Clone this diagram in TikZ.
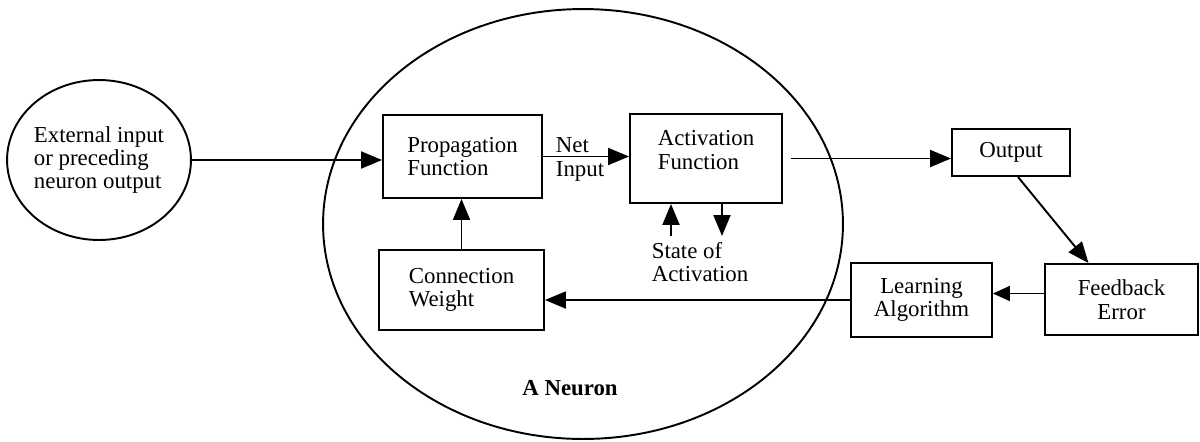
\documentclass[tikz,border=0pt]{standalone}
\usepackage{fontspec}
\setmainfont{Liberation Serif}
\usetikzlibrary{arrows.meta,calc,shapes.geometric}

\begin{document}
\begin{tikzpicture}[x=0.02cm, y=-0.02cm, line width=1.1pt, font=\fontsize{13}{13.3}\selectfont,
	block/.style = {draw, rectangle, inner sep=2pt},
	oval/.style = {draw, ellipse, inner sep=0pt},
	arr/.style = {-{Triangle[length=0.42cm, width=0.34cm]}}]
	\useasboundingbox (0,0) rectangle (1200,441);
		\node[oval, minimum width=10.4cm, minimum height=8.6cm] (neuron) at (583,224) {};
		\node[font=\fontsize{13}{13.3}\selectfont\bfseries] (title) at (570,388) {A Neuron};
		\node[oval, minimum width=3.56cm, minimum height=3.2cm, align=left] (ext) at (99,160) {External input\\or preceding\\neuron output};
		\node[block, minimum width=3.18cm, minimum height=1.66cm, align=left] (prop) at (462.5,156.5) {Propagation\\Function};
		\node[block, minimum width=3.04cm, minimum height=1.78cm, align=left, text depth=0.35cm] (act) at (706,158.5) {Activation\\Function};
		\node[block, minimum width=3.3cm, minimum height=1.6cm, align=left] (cw) at (461.5,290) {Connection\\Weight};
		\node[block, minimum width=2.36cm, minimum height=0.94cm] (out) at (1011,152.5) {Output};
		\node[block, minimum width=2.82cm, minimum height=1.48cm, align=center] (learn) at (921.5,300) {Learning\\Algorithm};
		\node[block, minimum width=3.06cm, minimum height=1.42cm, align=center] (fb) at (1121.5,299.5) {Feedback\\Error};
		\node[anchor=west, inner sep=0pt, align=left, font=\fontsize{13}{13.6}\selectfont] (net) at (555,159) {Net\\Input};
		\node[align=left, inner sep=0pt] (state) at (700,262) {State of\\Activation};
		\coordinate (sup) at (671,236);
		\coordinate (sdown) at (722,236);
		\coordinate (fbin) at ($(fb.west)+(0,-6)$);
		\draw[arr] (ext.east) -- (ext.east -| prop.west);
		\draw[arr] (prop.east) -- (prop.east -| act.west);
		\draw[arr] (cw.north) -- (cw.north |- prop.south);
		\draw[arr] (sup) -- (sup |- act.south);
		\draw[arr] (sdown |- act.south) -- (sdown);
		\draw[arr, shorten <=0.16cm] (act.east) -- (act.east -| out.west);
		\draw[arr] ($(out.south)+(7,0)$) -- ($(fb.north)+(-33,0)$);
		\draw[-{Triangle[length=0.34cm, width=0.3cm]}] (fbin) -- (fbin -| learn.east);
		\draw[arr] (learn.west) -- (learn.west -| cw.east);
	\end{tikzpicture}
\end{document}
